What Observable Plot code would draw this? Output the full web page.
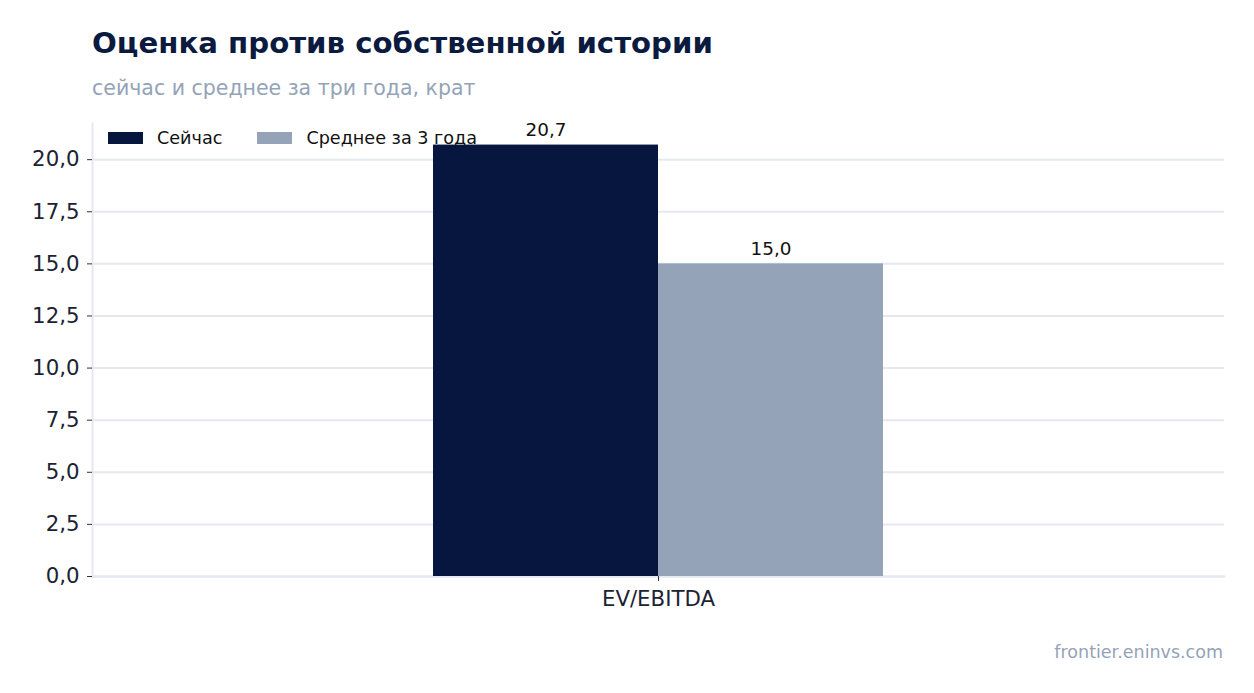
<!DOCTYPE html>
<html>
<head>
<meta charset="utf-8">
<script src="https://cdn.jsdelivr.net/npm/d3@7"></script>
<script src="https://cdn.jsdelivr.net/npm/@observablehq/plot@0.6"></script>
<style>
  html, body { margin: 0; padding: 0; background: #fff; }
  body { font-family: "DejaVu Sans", sans-serif; }
  #wrap { position: relative; width: 1254px; height: 693px; overflow: hidden; }
  #title { position: absolute; left: 92px; top: 26px; font-size: 29.2px; font-weight: bold; color: #0b1a3f; white-space: nowrap; }
  #subtitle { position: absolute; left: 92px; top: 76px; font-size: 20.5px; color: #94a3b8; white-space: nowrap; }
  #chart { position: absolute; left: 0; top: 110px; }
  #legend { position: absolute; left: 108px; top: 128px; display: flex; align-items: center; font-size: 17.6px; color: #111; white-space: nowrap; }
  .item { display: flex; align-items: center; margin-right: 35px; }
  .sw { width: 35px; height: 12px; margin-right: 14px; }
  #footer { position: absolute; right: 31px; top: 642px; font-size: 17.5px; color: #94a3b8; white-space: nowrap; }
</style>
</head>
<body>
<div id="wrap">
  <div id="title">Оценка против собственной истории</div>
  <div id="subtitle">сейчас и среднее за три года, крат</div>
  <div id="chart"></div>
  <div id="legend"></div>
  <div id="footer">frontier.eninvs.com</div>
</div>
<script>
const categories = ["EV/EBITDA"];
const seriesNames = ["Сейчас", "Среднее за 3 года"];
const currentValues = [20.7];
const avg3yValues = [15.0];
const yTicks = [0, 2.5, 5, 7.5, 10, 12.5, 15, 17.5, 20];
const seriesColors = ["#06163f", "#94a3b8"];

const ru = d3.formatLocale({decimal: ",", thousands: " ", grouping: [3], currency: ["", " ₽"]});
const fmt = ru.format(".1f");

const rows = categories.flatMap((c, i) => [
  {category: c, series: seriesNames[0], value: currentValues[i]},
  {category: c, series: seriesNames[1], value: avg3yValues[i]}
]);

const yMax = d3.max(rows, d => d.value) * 1.05;

const chart = Plot.plot({
  width: 1254,
  height: 532,
  marginLeft: 92,
  marginRight: 30,
  marginTop: 13,
  marginBottom: 66,
  style: {fontFamily: "DejaVu Sans, sans-serif", background: "#fff", color: "#1b2333"},
  fx: {domain: categories, padding: 0, label: null, axis: null},
  x: {domain: seriesNames, paddingInner: 0, paddingOuter: 1.5045, axis: null},
  y: {domain: [0, yMax], label: null},
  color: {domain: seriesNames, range: seriesColors},
  marks: [
    Plot.gridY({ticks: yTicks, stroke: "#e4e8ef", strokeOpacity: 1, strokeWidth: 2}),
    Plot.frame({anchor: "left", stroke: "#e4e8ef", strokeWidth: 2}),
    Plot.frame({anchor: "bottom", stroke: "#e4e8ef", strokeWidth: 2}),
    Plot.barY(rows, {fx: "category", x: "series", y: "value", fill: "series"}),
    Plot.text(rows, {fx: "category", x: "series", y: "value", text: d => fmt(d.value), dy: -15, fontSize: 18.4, fill: "#111"}),
    Plot.axisY({ticks: yTicks, tickFormat: fmt, tickSize: 5, tickPadding: 8, fontSize: 21.3, label: null, stroke: "#333"}),
    Plot.axisFx({anchor: "bottom", tickSize: 5, tickPadding: 9, fontSize: 21.3, label: null, stroke: "#333"})
  ]
});
document.getElementById("chart").appendChild(chart);

const legend = document.getElementById("legend");
seriesNames.forEach((name, i) => {
  const item = document.createElement("div");
  item.className = "item";
  const sw = document.createElement("div");
  sw.className = "sw";
  sw.style.background = seriesColors[i];
  const label = document.createElement("span");
  label.textContent = name;
  item.appendChild(sw);
  item.appendChild(label);
  legend.appendChild(item);
});
</script>
</body>
</html>
